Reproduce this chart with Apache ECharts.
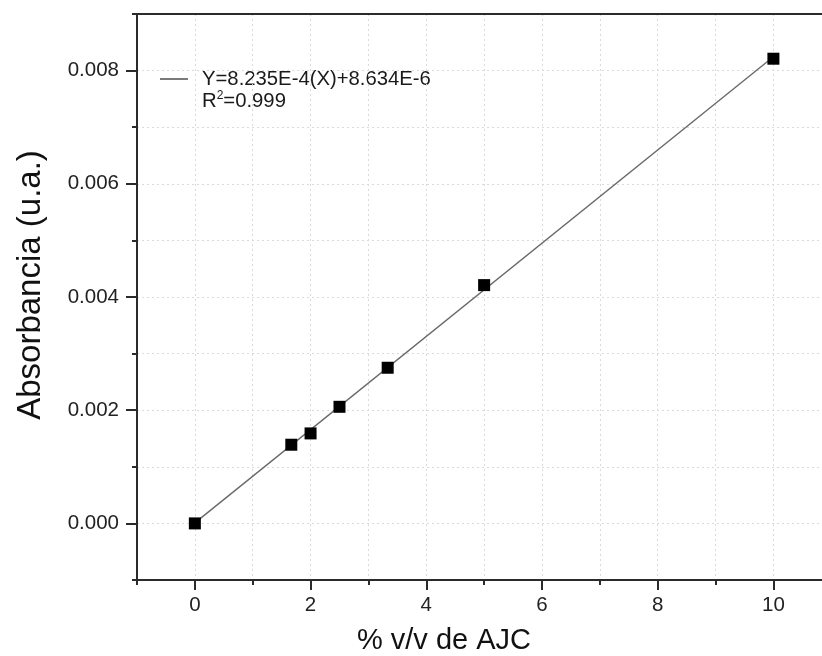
<!DOCTYPE html>
<html>
<head>
<meta charset="utf-8">
<title>Absorbancia vs % v/v de AJC</title>
<script src="https://cdn.jsdelivr.net/npm/echarts@6/dist/echarts.min.js"></script>
<style>
  html, body { margin: 0; padding: 0; background: #ffffff; }
  #chart { width: 822px; height: 656px; }
</style>
</head>
<body>
<div id="chart"></div>
<script>
// Calibration standards: concentration (% v/v) and measured absorbance (u.a.)
const concentration = [0, 1.667, 2, 2.5, 3.333, 5, 10];
const absorbance = [0, 0.00139, 0.00159, 0.00206, 0.00275, 0.00421, 0.00821];

// Linear regression reported on the chart
const slope = 8.235e-4;
const intercept = 8.634e-6;
const fitRange = [0, 10];

// Axis ticks
const xMajorTicks = [0, 2, 4, 6, 8, 10];
const xMinorTicks = [-1, 1, 3, 5, 7, 9];
const yMajorTicks = [0, 0.002, 0.004, 0.006, 0.008];
const yMinorTicks = [-0.001, 0.001, 0.003, 0.005, 0.007, 0.009];

const xTitle = '% v/v de AJC';
const yTitle = 'Absorbancia (u.a.)';
const eqText = 'Y=8.235E-4(X)+8.634E-6';
const r2Text = '0.999';

const FONT = '"Liberation Sans", Arial, sans-serif';
const AXIS_COLOR = '#2b2b2b';
const GRID_COLOR = '#dadada';

const points = concentration.map((c, i) => [c, absorbance[i]]);
const fitLine = fitRange.map(x => [x, slope * x + intercept]);

const chart = echarts.init(document.getElementById('chart'), null, { renderer: 'canvas' });

const dottedSplit = { show: true, lineStyle: { color: GRID_COLOR, width: 1, type: [2, 3] } };

chart.setOption({
  animation: false,
  backgroundColor: '#ffffff',
  grid: { left: 137, top: 14, right: 0, bottom: 76, containLabel: false },
  xAxis: [
    {
      type: 'value', position: 'bottom', min: -1, max: 10.84, interval: 1,
      axisLine: { show: true, onZero: false, lineStyle: { color: AXIS_COLOR, width: 2 } },
      axisTick: { show: true, inside: false, length: 10, customValues: xMajorTicks,
                  lineStyle: { color: AXIS_COLOR, width: 2 } },
      axisLabel: { show: true, customValues: xMajorTicks, margin: 15,
                   color: '#222', fontFamily: FONT, fontSize: 20.5 },
      splitLine: dottedSplit
    },
    {
      type: 'value', position: 'bottom', min: -1, max: 10.84, interval: 1,
      axisLine: { show: false, onZero: false },
      axisTick: { show: true, inside: false, length: 5, customValues: xMinorTicks,
                  lineStyle: { color: AXIS_COLOR, width: 2 } },
      axisLabel: { show: false },
      splitLine: dottedSplit
    },
    {
      // top frame line
      type: 'value', position: 'top', min: -1, max: 10.84,
      axisLine: { show: true, onZero: false, lineStyle: { color: AXIS_COLOR, width: 2 } },
      axisTick: { show: false }, axisLabel: { show: false }, splitLine: { show: false }
    }
  ],
  yAxis: [
    {
      type: 'value', position: 'left', min: -0.001, max: 0.009, interval: 0.001,
      axisLine: { show: true, onZero: false, lineStyle: { color: AXIS_COLOR, width: 2 } },
      axisTick: { show: true, inside: false, length: 11, customValues: yMajorTicks,
                  lineStyle: { color: AXIS_COLOR, width: 2 } },
      axisLabel: { show: true, customValues: yMajorTicks, margin: 18,
                   color: '#222', fontFamily: FONT, fontSize: 20.5,
                   formatter: v => v.toFixed(3) },
      splitLine: dottedSplit
    },
    {
      type: 'value', position: 'left', min: -0.001, max: 0.009, interval: 0.001,
      axisLine: { show: false, onZero: false },
      axisTick: { show: true, inside: false, length: 5, customValues: yMinorTicks,
                  lineStyle: { color: AXIS_COLOR, width: 2 } },
      axisLabel: { show: false },
      splitLine: dottedSplit
    }
  ],
  series: [
    {
      name: 'Ajuste lineal',
      type: 'line',
      data: fitLine,
      showSymbol: false,
      symbol: 'none',
      lineStyle: { color: '#6a6a6a', width: 1.4 },
      z: 2,
      silent: true
    },
    {
      name: 'Absorbancia',
      type: 'scatter',
      data: points,
      symbol: 'rect',
      symbolSize: 12,
      itemStyle: { color: '#000000', opacity: 1 },
      z: 3
    }
  ],
  graphic: [
    {
      type: 'line',
      shape: { x1: 160, y1: 79, x2: 188, y2: 79 },
      style: { stroke: '#222', lineWidth: 1.2 }
    },
    {
      type: 'text',
      x: 202, y: 79,
      style: {
        text: eqText,
        fontFamily: FONT, fontSize: 20.3, fill: '#1a1a1a',
        textAlign: 'left', textVerticalAlign: 'middle'
      }
    },
    {
      type: 'text',
      x: 202, y: 101,
      style: {
        text: '{a|R}{s|2}{a|=' + r2Text + '}',
        textAlign: 'left', textVerticalAlign: 'middle',
        rich: {
          a: { fontFamily: FONT, fontSize: 20.3, fill: '#1a1a1a', lineHeight: 22 },
          s: { fontFamily: FONT, fontSize: 12, fill: '#1a1a1a', lineHeight: 22, verticalAlign: 'top' }
        }
      }
    },
    {
      type: 'text',
      x: 444, y: 641,
      style: {
        text: xTitle,
        fontFamily: FONT, fontSize: 29, fill: '#111',
        textAlign: 'center', textVerticalAlign: 'middle'
      }
    },
    {
      type: 'text',
      x: 31, y: 285,
      rotation: Math.PI / 2,
      style: {
        text: yTitle,
        fontFamily: FONT, fontSize: 33, fill: '#111',
        textAlign: 'center', textVerticalAlign: 'middle'
      }
    }
  ]
});
</script>
</body>
</html>
